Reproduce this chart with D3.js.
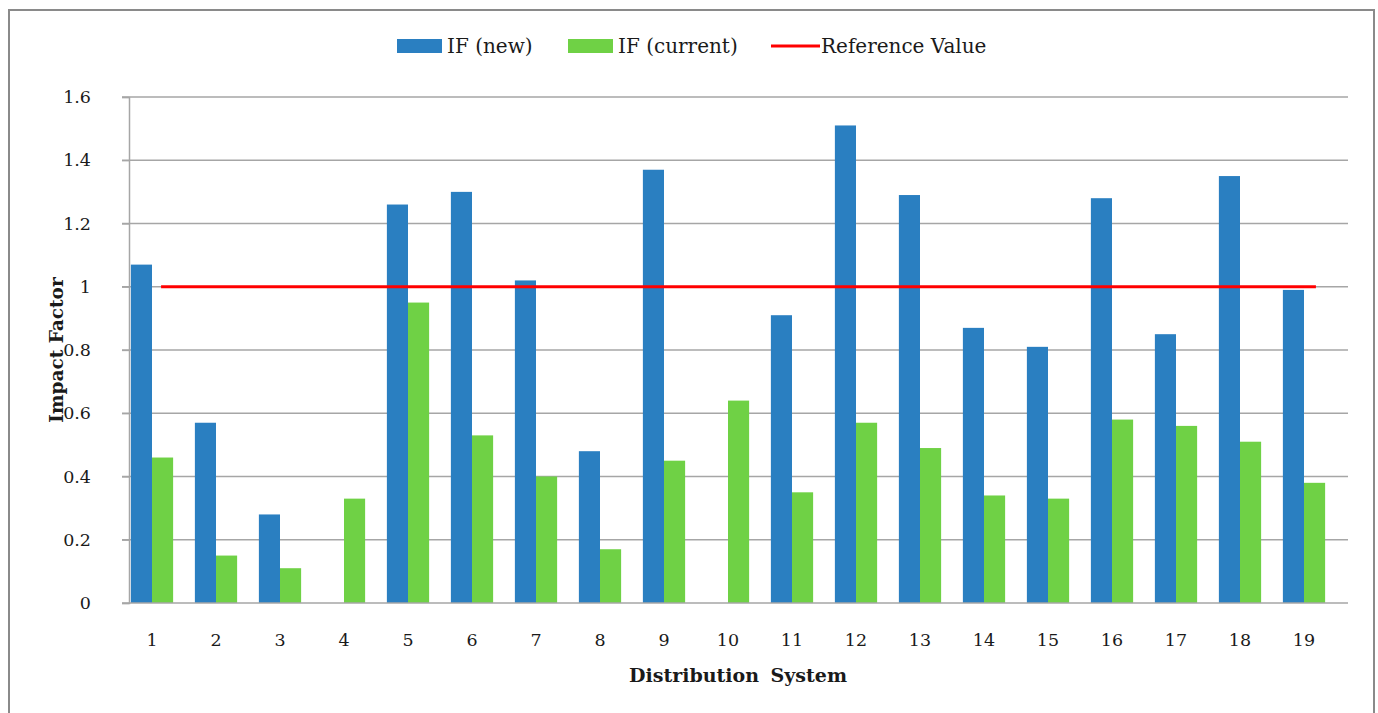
<html>
<head>
  <title>Impact Factor chart</title>
  <script src="https://d3js.org/d3.v7.min.js"></script>
  <style>
    body { margin: 0; background: #fff; }
    text { font-family: "DejaVu Serif", serif; fill: #1a1a1a; }
  </style>
</head>
<body>
  <script>

	var systems = ['1','2','3','4','5','6','7','8','9','10','11','12','13','14','15','16','17','18','19'];
	var ifNew = [1.07, 0.57, 0.28, 0, 1.26, 1.30, 1.02, 0.48, 1.37, 0, 0.91, 1.51, 1.29, 0.87, 0.81, 1.28, 0.85, 1.35, 0.99];
	var ifCurrent = [0.46, 0.15, 0.11, 0.33, 0.95, 0.53, 0.40, 0.17, 0.45, 0.64, 0.35, 0.57, 0.49, 0.34, 0.33, 0.58, 0.56, 0.51, 0.38];
	var referenceValue = [1, 1, 1, 1, 1, 1, 1, 1, 1, 1, 1, 1, 1, 1, 1, 1, 1, 1, 1];
	var yTicks = [0, 0.2, 0.4, 0.6, 0.8, 1, 1.2, 1.4, 1.6];
	var seriesNames = ['IF (new)', 'IF (current)'];

	var blue = '#2a7fc1', green = '#6fd145', red = '#ff0000';

	var svg = d3.select('body')
	            .append('svg')
	              .attr('width', 1378)
	              .attr('height', 713);

	// outer frame
	svg.append('rect')
	  .attr('x', 9).attr('y', 10)
	  .attr('width', 1365).attr('height', 720)
	  .attr('fill', 'none')
	  .attr('stroke', '#8a8a8a')
	  .attr('stroke-width', 2);

	var x = d3.scaleBand().domain(systems).range([129, 1348]);
	// bars sit a little left of the category centre in the original
	var xBars = d3.scaleBand().domain(systems).range([120, 1336]).paddingInner(0.34).paddingOuter(0.17);
	var xSub = d3.scaleBand().domain(seriesNames).range([0, xBars.bandwidth()]);
	var y = d3.scaleLinear().domain([0, 1.6]).range([603, 97]);

	// gridlines
	svg.append('g')
	  .selectAll('line')
	  .data(yTicks.slice(1))
	  .enter()
	  .append('line')
	    .attr('x1', 122).attr('x2', 1348)
	    .attr('y1', function(d){ return y(d); })
	    .attr('y2', function(d){ return y(d); })
	    .attr('stroke', '#a6a6a6')
	    .attr('stroke-width', 1.3);

	// y axis
	var yAxis = svg.append('g')
	  .attr('transform', 'translate(129,0)')
	  .call(d3.axisLeft(y).tickValues(yTicks).tickSize(7).tickPadding(31)
	    .tickFormat(function(d){ return String(d); }));
	yAxis.select('.domain').attr('stroke', '#a6a6a6').attr('stroke-width', 1.5);
	yAxis.selectAll('.tick line').attr('stroke', '#a6a6a6').attr('stroke-width', 1.3);
	yAxis.selectAll('.tick text').attr('font-size', 17.5).attr('font-family', '"DejaVu Serif", serif').attr('fill', '#1a1a1a');

	// bars
	var groups = svg.append('g')
	  .selectAll('g')
	  .data(systems)
	  .enter()
	  .append('g')
	    .attr('transform', function(d){ return 'translate(' + xBars(d) + ',0)'; });

	groups.append('rect')
	  .attr('x', xSub(seriesNames[0]))
	  .attr('width', xSub.bandwidth())
	  .attr('y', function(d, i){ return y(ifNew[i]); })
	  .attr('height', function(d, i){ return y(0) - y(ifNew[i]); })
	  .attr('fill', blue);

	groups.append('rect')
	  .attr('x', xSub(seriesNames[1]))
	  .attr('width', xSub.bandwidth())
	  .attr('y', function(d, i){ return y(ifCurrent[i]); })
	  .attr('height', function(d, i){ return y(0) - y(ifCurrent[i]); })
	  .attr('fill', green);

	// x axis
	var xAxis = svg.append('g')
	  .attr('transform', 'translate(0,603)')
	  .call(d3.axisBottom(xBars).tickSize(0).tickPadding(31));
	xAxis.select('.domain').remove();
	xAxis.selectAll('.tick text').attr('font-size', 17.5).attr('font-family', '"DejaVu Serif", serif').attr('fill', '#1a1a1a');
	svg.append('line')
	  .attr('x1', 122).attr('x2', 1348)
	  .attr('y1', y(0)).attr('y2', y(0))
	  .attr('stroke', '#a6a6a6').attr('stroke-width', 1.5);

	// reference line
	var line = d3.line()
	  .x(function(d, i){ return x(systems[i]) + x.bandwidth() / 2; })
	  .y(function(d){ return y(d); });
	svg.append('path')
	  .datum(referenceValue)
	  .attr('d', line)
	  .attr('fill', 'none')
	  .attr('stroke', red)
	  .attr('stroke-width', 3);

	// axis titles
	svg.append('text')
	  .attr('x', 738).attr('y', 682)
	  .attr('text-anchor', 'middle')
	  .attr('font-size', 19).attr('font-weight', 'bold')
	  .attr('word-spacing', 5)
	  .text('Distribution System');

	svg.append('text')
	  .attr('transform', 'translate(63,350) rotate(-90)')
	  .attr('text-anchor', 'middle')
	  .attr('font-size', 18.5).attr('font-weight', 'bold')
	  .text('Impact Factor');

	// legend
	var legend = [
	  {name: seriesNames[0], color: blue, type: 'box', x: 397, w: 45},
	  {name: seriesNames[1], color: green, type: 'box', x: 568, w: 45},
	  {name: 'Reference Value', color: red, type: 'line', x: 771, w: 49}
	];
	var lg = svg.append('g').selectAll('g').data(legend).enter().append('g');
	lg.filter(function(d){ return d.type === 'box'; })
	  .append('rect')
	    .attr('x', function(d){ return d.x; })
	    .attr('y', 39).attr('height', 14)
	    .attr('width', function(d){ return d.w; })
	    .attr('fill', function(d){ return d.color; });
	lg.filter(function(d){ return d.type === 'line'; })
	  .append('line')
	    .attr('x1', function(d){ return d.x; })
	    .attr('x2', function(d){ return d.x + d.w; })
	    .attr('y1', 46).attr('y2', 46)
	    .attr('stroke', function(d){ return d.color; })
	    .attr('stroke-width', 3);
	lg.append('text')
	  .attr('x', function(d){ return d.x + d.w + (d.type === 'box' ? 5 : 1); })
	  .attr('y', 53)
	  .attr('font-size', 20)
	  .text(function(d){ return d.name; });

  </script>
</body>
</html>
